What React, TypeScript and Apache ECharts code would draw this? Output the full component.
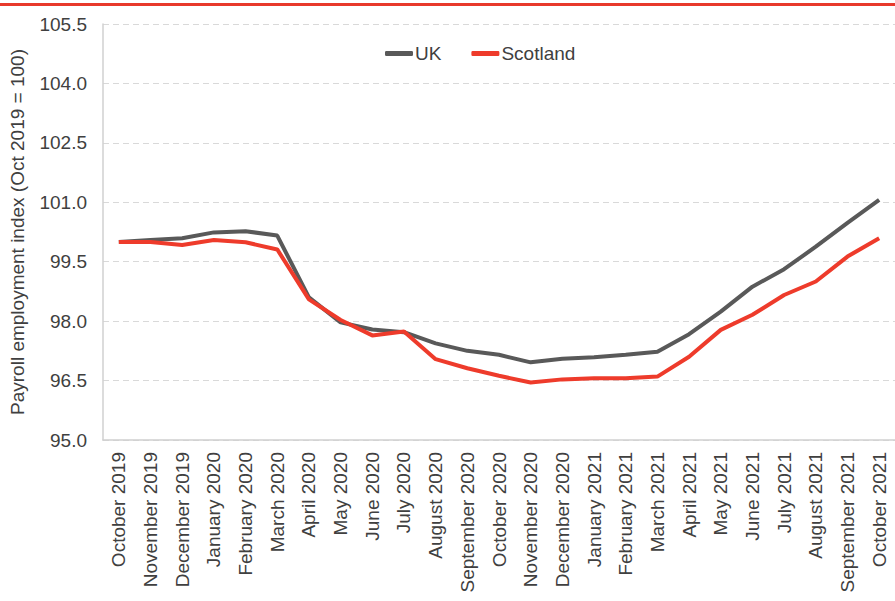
import React, { useEffect, useRef } from "react";
import * as echarts from "echarts";

const categories = [
  "October 2019", "November 2019", "December 2019", "January 2020", "February 2020",
  "March 2020", "April 2020", "May 2020", "June 2020", "July 2020", "August 2020",
  "September 2020", "October 2020", "November 2020", "December 2020", "January 2021",
  "February 2021", "March 2021", "April 2021", "May 2021", "June 2021", "July 2021",
  "August 2021", "September 2021", "October 2021",
];

const ukValues = [
  100.0, 100.05, 100.09, 100.24, 100.27, 100.16, 98.6, 97.97, 97.79, 97.72, 97.44,
  97.25, 97.15, 96.96, 97.05, 97.09, 97.15, 97.23, 97.67, 98.24, 98.87, 99.31,
  99.88, 100.48, 101.06,
];

const scotlandValues = [
  100.0, 100.0, 99.92, 100.05, 99.99, 99.81, 98.55, 98.03, 97.64, 97.74, 97.04,
  96.81, 96.62, 96.45, 96.53, 96.56, 96.56, 96.6, 97.1, 97.78, 98.16, 98.66,
  99.0, 99.63, 100.09,
];

const yMin = 95.0;
const yMax = 105.5;
const yStep = 1.5;

const FONT = "'Liberation Sans', Arial, sans-serif";
const TEXT_COLOR = "#404040";

export default function App() {
  const ref = useRef<HTMLDivElement>(null);

  useEffect(() => {
    document.body.style.margin = "0";
    if (!ref.current) return;
    const chart = echarts.init(ref.current, null, { renderer: "svg" });
    const shift = (arr: number[]) => arr.map((v) => +(v - yMin).toFixed(4));
    chart.setOption({
      animation: false,
      backgroundColor: "#ffffff",
      textStyle: { fontFamily: FONT },
      graphic: [
        {
          type: "rect",
          left: 0,
          top: 3,
          shape: { width: 895, height: 3 },
          style: { fill: "#E8392B" },
        },
      ],
      legend: {
        left: 380,
        top: 39,
        itemWidth: 28,
        itemHeight: 5,
        itemGap: 30,
        icon: "roundRect",
        textStyle: { fontSize: 19, color: TEXT_COLOR, fontFamily: FONT, padding: [0, 0, 0, -3] },
        data: ["UK", "Scotland"],
      },
      grid: { left: 103, top: 24, height: 416, width: 802, containLabel: false },
      xAxis: {
        type: "category",
        data: categories,
        boundaryGap: true,
        axisLine: { show: true, lineStyle: { color: "#d0d0d0", width: 1.5 } },
        axisTick: { show: false },
        axisLabel: {
          interval: 0,
          rotate: 90,
          margin: 12,
          fontSize: 19,
          color: TEXT_COLOR,
          fontFamily: FONT,
        },
        splitLine: { show: false },
      },
      yAxis: {
        type: "value",
        min: 0,
        max: yMax - yMin,
        interval: yStep,
        name: "Payroll employment index (Oct 2019 = 100)",
        nameLocation: "middle",
        nameRotate: 90,
        nameGap: 76,
        nameTextStyle: { fontSize: 19, color: TEXT_COLOR, fontFamily: FONT },
        axisLine: { show: true, lineStyle: { color: "#d0d0d0", width: 1.5 } },
        axisTick: { show: false },
        axisLabel: {
          margin: 16,
          fontSize: 19,
          color: TEXT_COLOR,
          fontFamily: FONT,
          formatter: (v: number) => (v + yMin).toFixed(1),
        },
        splitLine: {
          show: true,
          lineStyle: { color: "#d9d9d9", type: [6, 4], width: 1.2 },
        },
      },
      series: [
        {
          name: "UK",
          type: "line",
          data: shift(ukValues),
          symbol: "none",
          lineStyle: { color: "#595959", width: 4 },
          itemStyle: { color: "#595959" },
        },
        {
          name: "Scotland",
          type: "line",
          data: shift(scotlandValues),
          symbol: "none",
          lineStyle: { color: "#EE3B2B", width: 4 },
          itemStyle: { color: "#EE3B2B" },
        },
      ],
    });
    return () => chart.dispose();
  }, []);

  return <div ref={ref} style={{ width: 895, height: 601 }} />;
}
